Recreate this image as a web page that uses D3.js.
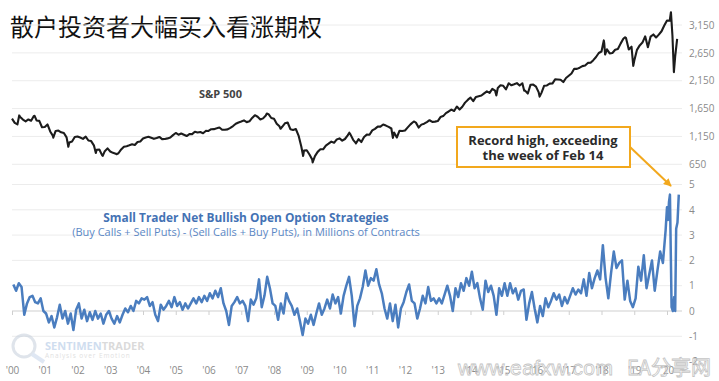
<!DOCTYPE html>
<html><head><meta charset="utf-8">
<script src="https://cdn.jsdelivr.net/npm/d3@7"></script>
<style>body{margin:0;background:#fff}svg{display:block}</style>
</head><body><svg id="c" width="719" height="381"></svg>
<script>
const chartTitle = "散户投资者大幅买入看涨期权";
const spxLabel = "S&P 500";
const optTitle = "Small Trader Net Bullish Open Option Strategies";
const optSubtitle = "(Buy Calls + Sell Puts) - (Sell Calls + Buy Puts), in Millions of Contracts";
const noteLines = ["Record high, exceeding", "the week of Feb 14"];

// S&P 500 month-end closes, starting Dec 1999
const spxMonthly = [1469,
 1394,1366,1499,1452,1421,1455,1431,1518,1437,1429,1315,1320,
 1366,1240,1160,1249,1256,1224,1211,1134,1041,1060,1139,1148,
 1130,1107,1147,1077,1067,990,912,916,815,886,936,880,
 856,841,848,917,964,975,990,1008,996,1051,1058,1112,
 1131,1145,1126,1107,1121,1141,1102,1104,1115,1130,1174,1212,
 1181,1204,1181,1157,1192,1191,1234,1220,1229,1207,1249,1248,
 1280,1281,1295,1311,1270,1270,1277,1304,1336,1378,1401,1418,
 1438,1407,1421,1482,1531,1503,1455,1474,1527,1549,1481,1468,
 1379,1331,1323,1386,1400,1280,1267,1283,1166,969,896,903,
 826,735,798,873,919,919,987,1021,1057,1036,1096,1115,
 1074,1104,1169,1187,1089,1031,1102,1049,1141,1183,1181,1258,
 1286,1327,1326,1364,1345,1321,1292,1219,1131,1253,1247,1258,
 1312,1366,1408,1398,1310,1362,1379,1407,1441,1412,1416,1426,
 1498,1515,1569,1598,1631,1606,1686,1633,1682,1757,1806,1848,
 1783,1859,1872,1884,1924,1960,1931,2003,1972,2018,2068,2059,
 1995,2105,2068,2086,2107,2063,2104,1972,1920,2079,2080,2044,
 1940,1932,2060,2065,2097,2099,2174,2171,2168,2126,2199,2239,
 2279,2364,2363,2384,2412,2423,2470,2472,2519,2575,2648,2674,
 2824,2714,2641,2648,2705,2718,2816,2902,2914,2712,2760,2507,
 2704,2784,2834,2946,2752,2942,2980,2926,2977,3038,3141,3231,
 3226,2954,2585];
// weekly highs / lows between month ends: [year, close]
const spxExtremes = [[2000.22,1527],[2000.69,1520],[2001.26,1128],[2001.72,966],[2002.56,852],
 [2002.77,800],[2003.19,830],[2007.78,1561],[2008.2,1288],[2008.89,800],[2009.18,683],
 [2010.3,1217],[2010.5,1022],[2011.63,1124],[2012.27,1419],[2014.79,1887],[2015.64,1971],
 [2016.11,1865],[2018.07,2873],[2018.11,2620],[2018.72,2930],[2018.97,2417],
 [2020.12,3380],[2020.21,2305],[2020.31,2900]];

// Small trader net bullish option positions (millions), monthly from Jan 2000
const optMonthly = [
 1.05,0.8,1.1,0.95,-0.15,0.3,0.55,0.6,0.35,0.3,0.5,0.0,
 -0.1,-0.45,-0.2,-0.65,-0.25,0.25,-0.3,0.0,-0.5,-0.1,-0.75,0.05,
 0.3,-0.3,0.05,-0.4,-0.05,-0.35,0.0,-0.3,-0.1,-0.5,-0.15,0.0,
 -0.3,-0.5,-0.2,-0.45,-0.15,0.1,-0.05,0.2,0.0,0.4,0.3,0.5,
 0.45,0.55,0.2,0.35,-0.15,-0.4,0.25,0.05,0.2,0.4,0.15,0.55,
 0.2,0.35,0.05,0.3,0.1,0.3,0.5,0.3,0.55,0.35,0.6,0.4,
 0.7,0.5,0.8,0.55,0.9,0.3,0.0,-0.55,0.2,0.35,0.55,0.3,
 0.4,0.2,-0.4,0.45,0.25,0.5,1.25,0.15,0.6,1.35,0.9,0.3,
 0.2,-0.35,0.3,-0.1,0.7,0.4,0.2,-0.15,0.1,-0.4,-0.95,-0.3,
 -0.5,-0.15,-0.55,-0.1,0.3,-0.15,0.1,0.45,0.1,0.65,0.3,0.55,
 -0.1,0.6,1.0,1.35,0.6,-0.6,0.2,0.5,0.95,1.6,1.0,1.3,
 1.2,1.65,1.05,0.7,0.1,-0.3,0.3,-0.4,0.25,-0.65,0.1,0.35,
 0.75,1.05,0.4,0.3,-0.3,0.1,0.6,0.3,0.95,0.4,0.5,0.3,
 0.5,0.3,0.65,1.0,0.6,0.0,0.9,0.55,1.1,0.8,1.3,1.0,
 1.55,0.9,1.1,0.5,0.05,1.2,0.75,1.0,0.6,-0.15,0.9,0.6,
 1.1,0.6,1.1,0.7,0.9,0.45,0.8,0.85,-0.35,0.3,0.75,0.1,
 -0.45,0.2,-0.2,0.5,0.15,0.4,0.7,0.45,0.65,0.2,0.55,0.3,
 0.6,0.9,0.65,0.85,0.7,1.25,0.6,1.5,0.9,1.3,1.6,1.25,
 2.6,1.3,0.5,1.5,2.35,1.7,1.9,2.0,0.45,1.2,0.4,0.15,
 0.5,1.75,1.2,2.2,0.9,1.45,2.0,0.8,1.6,2.35,1.9,3.2];
// 2020 weekly readings: [year, value]
const optTail = [[2020.0,4.1],[2020.03,3.6],[2020.06,4.3],[2020.09,4.6],[2020.11,2.8],
 [2020.14,0.15],[2020.18,0.0],[2020.22,0.55],[2020.25,0.0],[2020.28,3.25],[2020.32,3.5],[2020.36,4.6]];

const spxTicks = [650,1150,1650,2150,2650,3150];
const optTicks = [-2,-1,0,1,2,3,4,5];
const yearTicks = [2000,2001,2002,2003,2004,2005,2006,2007,2008,2009,2010,2011,2012,2013,2014,2015,2016,2017,2018,2019,2020];
const yearLabels = ["'00","'01","'02","'03","'04","'05","'06","'07","'08","'09","'10","'11","'12","'13","'14","'15","'16","'17","'18","'19","'20"];

const FONT = "'Open Sans', 'Noto Sans', sans-serif";
const svg = d3.select("#c");
const x = d3.scaleLinear().domain([2000, 2020]).range([12, 667]);
const ySpx = d3.scaleLinear().domain([650, 3150]).range([164.3, 25]);
const yOpt = d3.scaleLinear().domain([0, 5]).range([311, 184.5]);
const gridX0 = 12, gridX1 = 682;

// title
svg.append("text").attr("x", 10).attr("y", 36).text(chartTitle)
  .attr("font-family", "'Noto Sans CJK SC', sans-serif").attr("font-size", 24).attr("fill", "#111");

// grids
svg.append("g").selectAll("line").data(spxTicks).join("line")
  .attr("x1", gridX0).attr("x2", gridX1).attr("y1", d => ySpx(d)).attr("y2", d => ySpx(d))
  .attr("stroke", "#ececec").attr("stroke-width", 1);
svg.append("g").selectAll("line").data(optTicks.filter(d => d !== 0 && d !== -2)).join("line")
  .attr("x1", gridX0).attr("x2", gridX1).attr("y1", d => yOpt(d)).attr("y2", d => yOpt(d))
  .attr("stroke", "#ececec").attr("stroke-width", 1);
svg.append("line").attr("x1", gridX0).attr("x2", gridX1).attr("y1", yOpt(0)).attr("y2", yOpt(0))
  .attr("stroke", "#cfcfcf").attr("stroke-width", 1);
const tickAxis = svg.append("g").attr("transform", `translate(0,${yOpt(0)})`)
  .call(d3.axisBottom(x).tickValues(yearTicks).tickSize(4).tickSizeOuter(0).tickFormat(""));
tickAxis.select(".domain").remove();
tickAxis.selectAll("line").attr("stroke", "#cfcfcf");

// right axes
function styleAxis(g) {
  g.select(".domain").remove();
  g.selectAll("text").attr("font-family", FONT).attr("font-size", 10).attr("fill", "#8a8a8a");
}
svg.append("g").attr("transform", "translate(686,0)")
  .call(d3.axisRight(ySpx).tickValues(spxTicks).tickSize(0).tickPadding(3).tickFormat(d3.format(",")))
  .call(styleAxis);
svg.append("g").attr("transform", "translate(686,0)")
  .call(d3.axisRight(yOpt).tickValues(optTicks).tickSize(0).tickPadding(3).tickFormat(d => d < 0 ? "-" + Math.abs(d) : d))
  .call(styleAxis);

// x labels
svg.append("g").attr("transform", "translate(0,364)")
  .call(d3.axisBottom(x).tickValues(yearTicks).tickSize(0).tickPadding(3).tickFormat((d, i) => yearLabels[i]))
  .call(styleAxis);

// watermark (SentimenTrader)
const wm = svg.append("g").attr("opacity", 0.55);
wm.append("circle").attr("cx", 24).attr("cy", 346).attr("r", 11).attr("fill", "none").attr("stroke", "#c5cfdc").attr("stroke-width", 3);
wm.append("line").attr("x1", 32).attr("y1", 354).attr("x2", 44).attr("y2", 362).attr("stroke", "#c5d5ea").attr("stroke-width", 4);
const wmt = wm.append("text").attr("x", 45).attr("y", 350).attr("font-family", FONT).attr("font-size", 11).attr("font-weight", 700);
wmt.append("tspan").text("SENTIMEN").attr("fill", "#a9c3e3");
wmt.append("tspan").text("TRADER").attr("fill", "#bdbdbd");
wm.append("text").attr("x", 45).attr("y", 358).attr("font-family", FONT).attr("font-size", 6.5)
  .attr("letter-spacing", 0.9).attr("fill", "#c8c8c8").text("Analysis over Emotion");

// S&P line
const spxData = spxMonthly.map((v, i) => [2000 + i / 12, v]).concat(spxExtremes).sort((a, b) => a[0] - b[0]);
svg.append("path").datum(spxData)
  .attr("d", d3.line().x(d => x(d[0])).y(d => ySpx(d[1])))
  .attr("fill", "none").attr("stroke", "#1c1c1c").attr("stroke-width", 2.1).attr("stroke-linejoin", "round");

// option line
const optData = optMonthly.map((v, i) => [2000 + (i + 0.5) / 12, v]).concat(optTail);
svg.append("path").datum(optData)
  .attr("d", d3.line().x(d => x(d[0])).y(d => yOpt(d[1])))
  .attr("fill", "none").attr("stroke", "#4a7dbf").attr("stroke-width", 2.5).attr("stroke-linejoin", "round");

// labels
svg.append("text").attr("x", 199).attr("y", 98).text(spxLabel)
  .attr("font-family", FONT).attr("font-size", 11).attr("font-weight", 700).attr("fill", "#444");
svg.append("text").attr("x", 246).attr("y", 222).attr("text-anchor", "middle").text(optTitle)
  .attr("font-family", FONT).attr("font-size", 11.9).attr("font-weight", 700).attr("fill", "#4472b4");
svg.append("text").attr("x", 246).attr("y", 236).attr("text-anchor", "middle").text(optSubtitle)
  .attr("font-family", FONT).attr("font-size", 11).attr("fill", "#5b87c5");

// annotation
const orange = "#f2a81d";
svg.append("defs").append("marker").attr("id", "ah").attr("viewBox", "0 0 10 10")
  .attr("refX", 9).attr("refY", 5).attr("markerWidth", 4).attr("markerHeight", 4).attr("orient", "auto")
  .append("path").attr("d", "M0,0L10,5L0,10z").attr("fill", orange);
svg.append("line").attr("x1", 630).attr("y1", 147).attr("x2", 671).attr("y2", 186)
  .attr("stroke", orange).attr("stroke-width", 2).attr("marker-end", "url(#ah)");
svg.append("rect").attr("x", 457).attr("y", 127).attr("width", 173).attr("height", 40)
  .attr("fill", "#fff").attr("stroke", orange).attr("stroke-width", 2);
svg.append("g").selectAll("text").data(noteLines).join("text")
  .attr("x", 543).attr("y", (d, i) => 145 + i * 15).attr("text-anchor", "middle").text(d => d)
  .attr("font-family", FONT).attr("font-size", 13).attr("font-weight", 700).attr("fill", "#2b2b2b");

// site watermark
const ea = svg.append("g").attr("fill", "none").attr("stroke", "#c4c4c4").attr("stroke-width", 0.8);
ea.append("text").attr("x", 458).attr("y", 375).attr("font-family", "'Liberation Sans', sans-serif")
  .attr("font-size", 21).attr("textLength", 155).text("www.eafxw.com");
ea.append("text").attr("x", 627).attr("y", 375).attr("font-family", "'Noto Sans CJK SC', sans-serif")
  .attr("font-size", 20).text("EA分享网");
</script></body></html>
